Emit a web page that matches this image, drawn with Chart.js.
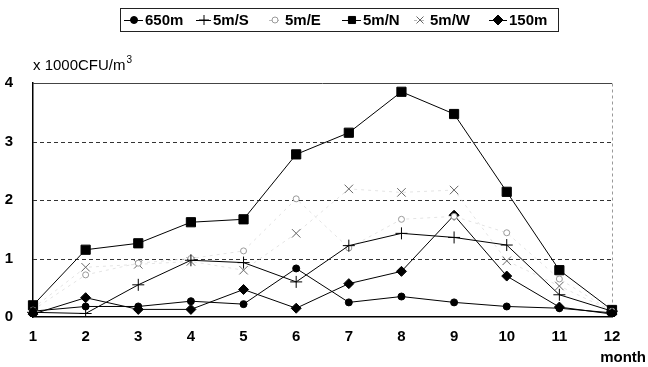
<!DOCTYPE html>
<html><head><meta charset="utf-8">
<script src="https://cdn.jsdelivr.net/npm/chart.js@4/dist/chart.umd.min.js"></script>
<style>html,body{margin:0;padding:0;background:#fff;}#wrap{position:relative;width:648px;height:367px;}</style>
</head><body><div id="wrap"><canvas id="c" width="648" height="367"></canvas></div>
<script>
const months = ['1','2','3','4','5','6','7','8','9','10','11','12'];
const yTicks = [0, 1, 2, 3, 4];
const seriesNames = ['650m', '5m/S', '5m/E', '5m/N', '5m/W', '150m'];
const v650m = [0.10, 0.18, 0.18, 0.27, 0.22, 0.83, 0.25, 0.35, 0.25, 0.18, 0.15, 0.07];
const v5mS  = [0.08, 0.06, 0.55, 0.97, 0.93, 0.60, 1.22, 1.43, 1.36, 1.23, 0.38, 0.10];
const v5mE  = [0.12, 0.72, 0.92, 1.00, 1.13, 2.02, 1.18, 1.67, 1.72, 1.44, 0.65, 0.10];
const v5mN  = [0.20, 1.15, 1.26, 1.62, 1.67, 2.78, 3.15, 3.85, 3.47, 2.14, 0.80, 0.12];
const v5mW  = [0.15, 0.85, 0.90, 0.95, 0.80, 1.43, 2.19, 2.13, 2.17, 0.96, 0.53, 0.10];
const v150m = [0.05, 0.33, 0.13, 0.13, 0.47, 0.15, 0.57, 0.78, 1.74, 0.70, 0.17, 0.05];
const yTitle = 'x 1000CFU/m';
const xTitle = 'month';

const FONT = "'Liberation Sans', Arial, sans-serif";
const styles = [
  {pointStyle:'circle', radius:3.5, fill:'#000', stroke:'#000', line:'#000', dash:[]},
  {pointStyle:'cross', radius:6, fill:'#000', stroke:'#000', line:'#000', dash:[]},
  {pointStyle:'circle', radius:3, fill:'#fff', stroke:'#999', line:'#e4e4e4', dash:[3,4]},
  {pointStyle:'rect', radius:6.5, fill:'#000', stroke:'#000', line:'#000', dash:[]},
  {pointStyle:'crossRot', radius:6, fill:'#666', stroke:'#666', line:'#e4e4e4', dash:[3,4]},
  {pointStyle:'rectRot', radius:5, fill:'#000', stroke:'#000', line:'#000', dash:[]}
];
const values = [v650m, v5mS, v5mE, v5mN, v5mW, v150m];
const datasets = values.map((d, i) => ({
  label: seriesNames[i], data: d,
  borderColor: styles[i].line, borderWidth: 1, borderDash: styles[i].dash,
  pointStyle: styles[i].pointStyle, pointRadius: styles[i].radius,
  pointBackgroundColor: styles[i].fill, pointBorderColor: styles[i].stroke,
  pointBorderWidth: 1, tension: 0, fill: false
}));

function marker(ctx, style, x, y, r, fill, stroke) {
  ctx.save();
  ctx.fillStyle = fill; ctx.strokeStyle = stroke; ctx.lineWidth = 1; ctx.setLineDash([]);
  ctx.beginPath();
  if (style === 'circle') { ctx.arc(x, y, r, 0, Math.PI*2); ctx.fill(); ctx.stroke(); }
  else if (style === 'rect') { const s = r*Math.SQRT1_2; ctx.rect(x-s, y-s, 2*s, 2*s); ctx.fill(); ctx.stroke(); }
  else if (style === 'rectRot') { ctx.moveTo(x, y-r); ctx.lineTo(x+r, y); ctx.lineTo(x, y+r); ctx.lineTo(x-r, y); ctx.closePath(); ctx.fill(); ctx.stroke(); }
  else if (style === 'cross') { ctx.moveTo(x-r, y); ctx.lineTo(x+r, y); ctx.moveTo(x, y-r); ctx.lineTo(x, y+r); ctx.stroke(); }
  else if (style === 'crossRot') { const s = r*0.7; ctx.moveTo(x-s, y-s); ctx.lineTo(x+s, y+s); ctx.moveTo(x+s, y-s); ctx.lineTo(x-s, y+s); ctx.stroke(); }
  ctx.restore();
}

const decor = {
  id: 'decor',
  beforeDatasetsDraw(chart) {
    const {ctx, chartArea: a, scales: {y}} = chart;
    ctx.save();
    ctx.lineWidth = 1;
    [1, 2, 3].forEach(v => {
      const py = Math.round(y.getPixelForValue(v)) + 0.5;
      ctx.strokeStyle = '#333'; ctx.setLineDash([4, 3]);
      ctx.beginPath(); ctx.moveTo(a.left, py); ctx.lineTo(a.right, py); ctx.stroke();
    });
    const top = Math.round(y.getPixelForValue(4)) + 0.5;
    ctx.setLineDash([]); ctx.strokeStyle = '#444';
    ctx.beginPath(); ctx.moveTo(a.left, top); ctx.lineTo(a.right, top); ctx.stroke();
    ctx.strokeStyle = '#999'; ctx.setLineDash([3, 3]);
    ctx.beginPath(); ctx.moveTo(Math.round(a.right)+0.5, top); ctx.lineTo(Math.round(a.right)+0.5, a.bottom); ctx.stroke();
    ctx.restore();
  },
  afterDraw(chart) {
    const {ctx, chartArea: a} = chart;
    ctx.save();
    ctx.fillStyle = '#000';
    ctx.textBaseline = 'middle';
    ctx.font = '15px ' + FONT;
    ctx.textAlign = 'left';
    ctx.fillText(yTitle, a.left, 66);
    const w = ctx.measureText(yTitle).width;
    ctx.font = '10px ' + FONT;
    ctx.fillText('3', a.left + w + 1, 60);
    ctx.font = 'bold 15px ' + FONT;
    ctx.textAlign = 'right';
    ctx.fillText(xTitle, 646, 358);
    // legend
    const bx = 120.5, by = 8.5, bw = 438, bh = 23;
    ctx.strokeStyle = '#222'; ctx.lineWidth = 1;
    ctx.strokeRect(bx, by, bw, bh);
    const cy = by + bh/2;
    const items = [
      {mx:134, lx0:124, lx1:143, tx:145},
      {mx:204, lx0:196, lx1:211, tx:213},
      {mx:275, lx0:269, lx1:281, tx:285},
      {mx:352, lx0:342, lx1:361, tx:363},
      {mx:420, lx0:414, lx1:426, tx:430},
      {mx:498, lx0:489, lx1:507, tx:509}
    ];
    items.forEach((it, i) => {
      const st = styles[i];
      ctx.save();
      ctx.strokeStyle = i === 2 || i === 4 ? '#bbb' : st.line; ctx.setLineDash(st.dash); ctx.lineWidth = 1;
      ctx.beginPath(); ctx.moveTo(it.lx0, cy+0.5); ctx.lineTo(it.lx1, cy+0.5); ctx.stroke();
      ctx.restore();
      marker(ctx, st.pointStyle, it.mx, cy, Math.min(st.radius, 5), st.fill, st.stroke);
      ctx.fillStyle = '#000';
      ctx.font = 'bold 15px ' + FONT;
      ctx.textAlign = 'left';
      ctx.fillText(seriesNames[i], it.tx, cy + 1);
    });
    ctx.restore();
  }
};

new Chart(document.getElementById('c'), {
  type: 'line',
  data: {labels: months, datasets},
  options: {
    responsive: false, animation: false, devicePixelRatio: 1,
    layout: {padding: {top: 83, right: 36, left: 0, bottom: 0}},
    plugins: {legend: {display: false}, tooltip: {enabled: false}, title: {display: false}},
    scales: {
      x: {
        type: 'category', offset: false,
        grid: {display: false},
        border: {display: true, color: '#000', width: 1.5},
        ticks: {color: '#000', font: {family: FONT, size: 15, weight: 'bold'}, padding: 3, maxRotation: 0, autoSkip: false},
        afterFit: s => { s.height = 50; }
      },
      y: {
        min: 0, max: 4,
        afterBuildTicks: s => { s.ticks = yTicks.map(v => ({value: v})); },
        grid: {display: false},
        border: {display: true, color: '#000', width: 1.5},
        ticks: {color: '#000', font: {family: FONT, size: 15, weight: 'bold'}, padding: 12},
        afterFit: s => { s.width = 33; }
      }
    }
  },
  plugins: [decor]
});
</script>
</body></html>
